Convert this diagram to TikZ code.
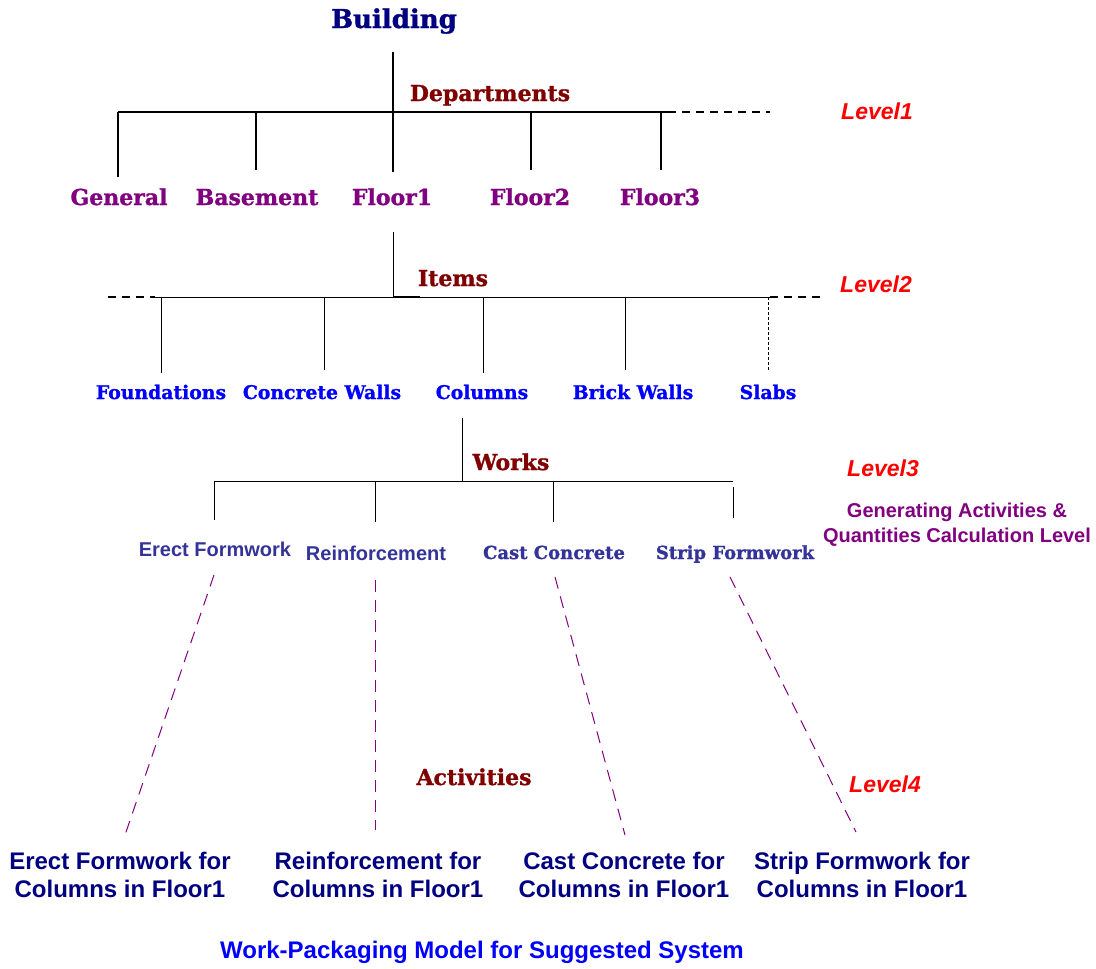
\documentclass[tikz,border=0pt]{standalone}
\usepackage{fontspec}
\setmainfont{DejaVu Serif}
\newfontfamily\heavyserif{DejaVu Serif}[BoldFeatures={FakeBold=1.2}]
\newfontfamily\lsans{Liberation Sans}
\definecolor{navyblue}{HTML}{000080}
\definecolor{darkred}{HTML}{800000}
\definecolor{plum}{HTML}{800080}
\definecolor{pureblue}{HTML}{0000FF}
\definecolor{slate}{HTML}{333399}
\definecolor{lvlred}{HTML}{FF0000}
\tikzset{
  txt/.style={inner sep=0pt, anchor=base},
  root/.style={txt, font=\heavyserif\bfseries\fontsize{26}{30}\selectfont, text=navyblue},
  header/.style={txt, font=\heavyserif\bfseries\fontsize{22}{26}\selectfont, text=darkred},
  dept/.style={txt, font=\heavyserif\bfseries\fontsize{22}{26}\selectfont, text=plum},
  item/.style={txt, font=\heavyserif\bfseries\fontsize{18.8}{22}\selectfont, text=pureblue},
  worksans/.style={txt, font=\lsans\bfseries\fontsize{20}{22}\selectfont, text=slate},
  workserif/.style={txt, font=\heavyserif\bfseries\fontsize{18}{20}\selectfont, text=slate},
  activity/.style={inner sep=0pt, anchor=north, align=center,
    font=\lsans\bfseries\fontsize{24}{28}\selectfont, text=navyblue},
  levellabel/.style={txt, font=\lsans\bfseries\itshape\fontsize{23}{26}\selectfont, text=lvlred},
  note/.style={inner sep=0pt, anchor=north, align=center,
    font=\lsans\bfseries\fontsize{20}{25}\selectfont, text=plum},
  caption/.style={txt, font=\lsans\bfseries\fontsize{24}{28}\selectfont, text=pureblue},
  heavy/.style={line width=2.2pt, draw=black},
  light/.style={line width=1pt, draw=black},
  busdash/.style={line width=1.4pt, draw=black, dash pattern=on 8pt off 6pt},
  fine/.style={line width=0.8pt, draw=black, dash pattern=on 3pt off 2pt},
  breakdown/.style={line width=1pt, draw=plum, dash pattern=on 12pt off 8pt},
}
\begin{document}
\begin{tikzpicture}[x=1pt, y=-1pt]
\useasboundingbox (0,0) rectangle (1096,969);

% ---------- level 1: departments ----------
\node[root]   (bld)  at (394,28)  {Building};
\node[header] (dep)  at (490,101) {Departments};
\node[levellabel] (l1) at (877,119) {Level1};

\node[dept] (gen)  at (119,205) {General};
\node[dept] (base) at (257,205) {Basement};
\node[dept] (fl1)  at (392,205) {Floor1};
\node[dept] (fl2)  at (530,205) {Floor2};
\node[dept] (fl3)  at (660,205) {Floor3};

\coordinate (stem)   at (393,52);
\coordinate (f1top)  at (393,172);
\coordinate (dbl)    at (118,112);
\coordinate (dbr)    at (668,112);
\coordinate (dbx)    at (770,112);
\coordinate (gentop) at (118,177);
\coordinate (bastop) at (256,170);
\coordinate (f2top)  at (531,170);
\coordinate (f3top)  at (661,170);

\draw[heavy] (stem) -- (f1top);
\draw[heavy] (dbl) -- (dbr);
\draw[busdash] (dbr) -- (dbx);
\draw[heavy] (dbl) -- (gentop);
\draw[heavy] (bastop |- dbl) -- (bastop);
\draw[heavy] (f2top |- dbl) -- (f2top);
\draw[heavy] (f3top |- dbl) -- (f3top);

% ---------- level 2: items ----------
\node[header] (itm) at (453,286) {Items};
\node[levellabel] (l2) at (876,292) {Level2};

\node[item] (fnd)  at (161,399) {Foundations};
\node[item] (cwl)  at (322,399) {Concrete Walls};
\node[item] (col)  at (482,399) {Columns};
\node[item] (bwl)  at (633,399) {Brick Walls};
\node[item] (slb)  at (768,399) {Slabs};

\coordinate (f1bot) at (393,232);
\coordinate (ibl)   at (155,297);
\coordinate (ibr)   at (770,297);
\coordinate (ibxl)  at (108,297);
\coordinate (ibxr)  at (822,297);
\coordinate (fndtop) at (161,373);
\coordinate (cwltop) at (324,370);
\coordinate (coltop) at (483,373);
\coordinate (bwltop) at (625,370);
\coordinate (slbtop) at (768,370);

\draw[light] (f1bot) -- (f1bot |- ibl);
\draw[light] (ibl) -- (ibr);
\draw[line width=2pt] (f1bot |- ibl) -- ++(27,0);
\draw[busdash] (ibxl) -- (ibl);
\draw[busdash] (ibr) -- (ibxr);
\draw[light] (fndtop |- ibl) -- (fndtop);
\draw[light] (cwltop |- ibl) -- (cwltop);
\draw[light] (coltop |- ibl) -- (coltop);
\draw[light] (bwltop |- ibl) -- (bwltop);
\draw[fine]  (slbtop |- ibl) -- (slbtop);

% ---------- level 3: works ----------
\node[header] (wrk) at (511,470) {Works};
\node[levellabel] (l3) at (883,476) {Level3};
\node[note] (gen3) at (957,503) {Generating Activities \&\\Quantities Calculation Level};

\node[worksans]  (erf) at (215,556) {Erect Formwork};
\node[worksans]  (rnf) at (376,560) {Reinforcement};
\node[workserif] (ccn) at (554,559) {Cast Concrete};
\node[workserif] (stf) at (735,559) {Strip Formwork};

\coordinate (colbot) at (462,418);
\coordinate (wbl)    at (214,481);
\coordinate (wbr)    at (733,481);
\coordinate (erftop) at (214,520);
\coordinate (rnftop) at (375,522);
\coordinate (ccntop) at (553,522);
\coordinate (stftop) at (733,518);

\draw[light] (colbot) -- (colbot |- wbl);
\draw[light] (wbl) -- (wbr);
\draw[light] (wbl) -- (erftop);
\draw[light] (rnftop |- wbl) -- (rnftop);
\draw[light] (ccntop |- wbl) -- (ccntop);
\draw[light] (733,487) -- (stftop);

% ---------- level 4: activities ----------
\node[header] (act) at (474,785) {Activities};
\node[levellabel] (l4) at (885,792) {Level4};

\node[activity] (a1) at (120,852) {Erect Formwork for\\Columns in Floor1};
\node[activity] (a2) at (378,852) {Reinforcement for\\Columns in Floor1};
\node[activity] (a3) at (624,852) {Cast Concrete for\\Columns in Floor1};
\node[activity] (a4) at (862,852) {Strip Formwork for\\Columns in Floor1};

\coordinate (erfbot) at (214,575);
\coordinate (rnfbot) at (375,580);
\coordinate (ccnbot) at (555,577);
\coordinate (stfbot) at (730,577);
\coordinate (a1top)  at (125,835);
\coordinate (a2top)  at (375,830);
\coordinate (a3top)  at (625,835);
\coordinate (a4top)  at (856,832);

\draw[breakdown] (erfbot) -- (a1top);
\draw[breakdown] (rnfbot) -- (a2top);
\draw[breakdown] (ccnbot) -- (a3top);
\draw[breakdown] (stfbot) -- (a4top);

% ---------- caption ----------
\node[caption] (cap) at (482,958) {Work-Packaging Model for Suggested System};
\end{tikzpicture}
\end{document}
